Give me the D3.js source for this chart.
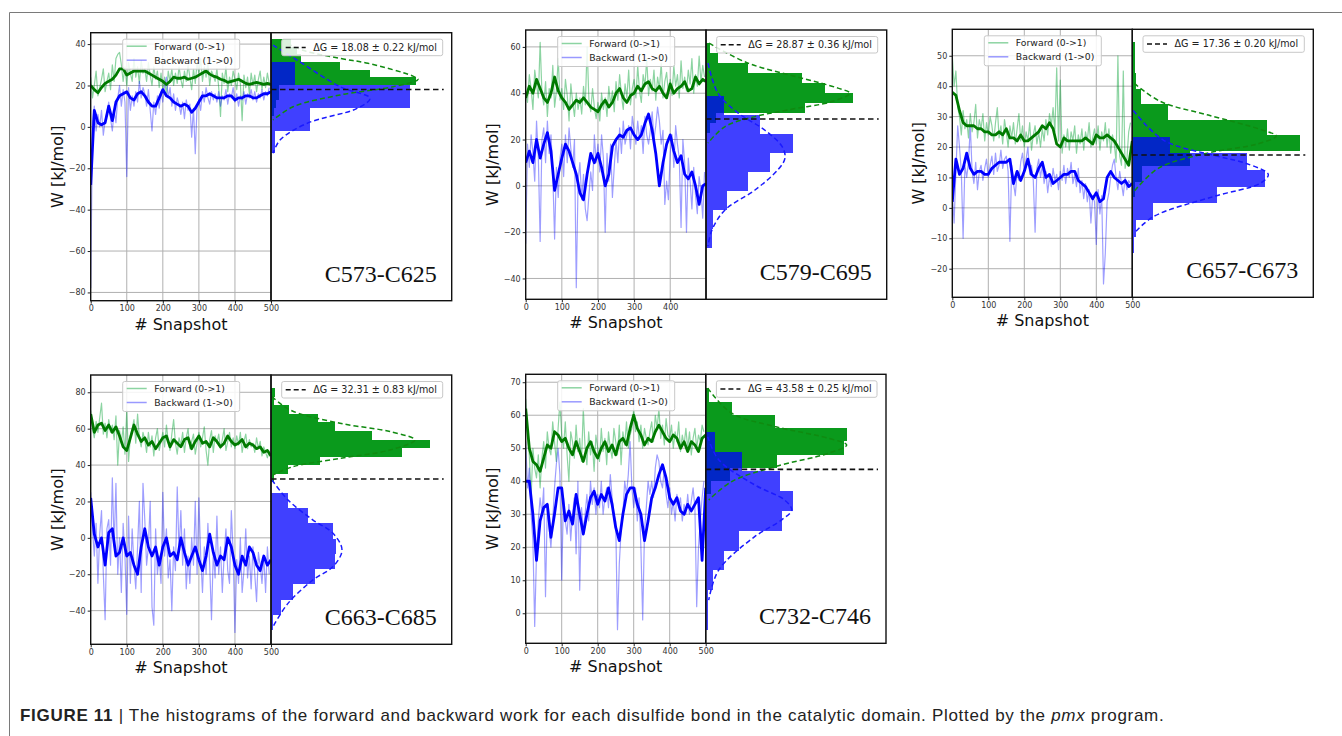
<!DOCTYPE html>
<html>
<head>
<meta charset="utf-8">
<script src="https://cdn.jsdelivr.net/npm/d3@7"></script>
<style>
  body { margin: 0; background: #fff; }
  svg { display: block; }
</style>
</head>
<body>
<div id="chart"></div>
<script>
// ---- data ----
// raw work values every 5 snapshots, smoothed curve every 10 snapshots
const RAW_STEP = 5;
const SMOOTH_STEP = 10;

const bondNames = ["C573-C625", "C579-C695", "C657-C673", "C663-C685", "C732-C746"];
const dGValues = [18.08, 28.87, 17.36, 32.31, 43.58];
const dGErrors = [0.22, 0.36, 0.20, 0.83, 0.25];

// C573-C625
const p1FwdRaw = [24,14,20,27,15,19,23,28,17,22, 26,18,30,22,33,35,36,30,22,29, 20,31,26,22,33,24,29,21,32,26,
  28,22,31,25,20,29,23,27,19,26, 18,24,15,27,22,28,20,26,21,29, 23,19,27,22,30,24,18,28,21,31,
  26,33,22,29,24,31,20,27,25,22, 28,19,5,26,21,29,17,24,20,27, 23,18,26,21,3,25,19,24,16,26, 20,25,17,23,27,18,24,19,26,21];
const p1FwdSmooth = [20,18,16.5,19,21,22,23,25,28,28,25,26,27,27,27,27,26,25,24,23,22,20.5,22,24,23.5,23.5,24,23,23.5,24,
  25,26,27,25.5,24.5,24,23,22.5,21.5,22,22.5,23,22,21,20.5,21,21.5,21,20.5,21,20.5];
const p1BwdRaw = [-78,2,10,-2,6,0,8,-4,3,7, 12,4,-2,8,2,14,20,10,18,12, -24,19,8,15,10,17,12,22,14,19,
  16,10,18,8,-2,12,6,15,9,17, 12,20,24,14,19,10,16,8,14,11, 6,12,4,13,8,11,-5,9,-13,10,
  13,8,17,12,19,14,11,17,13,16, 12,17,10,15,13,18,11,16,14,19, 12,16,10,15,13,17,11,16,14,18, 13,17,12,16,14,18,13,17,15,19];
const p1BwdSmooth = [-28,8,2,1,2,10,3,12,15,16,17,14,13,16,17,15,12,10,10,14,18,15,14,12,11,10,11,10,7,9,
  12,15,15,16,15,14,14,14,15,15,13,14,14,15,15,14,14,15,16,16,17];
const p1FwdEdges = [5.4,9.1,12.8,16.5,20.2,23.9,27.6,31.3,35.0,38.7,42.4];
const p1FwdCounts = [3,5,8,8,145,99,69,30,26,20];
const p1BwdEdges = [-12.8,-1.8,9.2,20.2,31.2];
const p1BwdCounts = [4,39,139,24];
const p1FwdFit = [[42,9],[37,32],[33.1,69],[30.7,97],[24.5,142],[22.9,147],[19.4,122],[15.4,69],[9.7,22],[3.3,2]];
const p1BwdFit = [[39.5,2],[32.3,26],[19.4,69],[13.8,99],[8.9,86],[1.7,36],[-6.4,9],[-12.8,2]];

// C579-C695
const p2FwdRaw = [40,36,48,42,33,50,44,38,62,40, 35,45,30,42,38,52,34,41,55,37, 42,33,46,39,28,44,36,30,40,33,
  38,31,43,35,60,37,32,42,34,29, 36,28,40,33,38,30,43,35,41,32, 45,37,48,39,33,44,38,50,35,42,
  46,38,52,41,36,48,43,55,39,46, 41,50,37,47,42,53,38,45,49,40, 46,39,52,43,48,38,54,42,47,41, 50,44,55,40,48,43,56,45,52,47];
const p2FwdSmooth = [38,43,40,46,42,38,36,40,47,41,38,36,33,35,37,36,38,36,34,33,32,35,37,34,36,40,42,38,36,39,
  40,43,41,44,45,42,41,43,40,38,44,40,42,43,45,41,42,47,44,46,45];
const p2BwdRaw = [-25,18,8,22,14,2,28,12,-24,20, 25,10,28,14,22,5,-23,8,-5,12, 18,4,22,10,25,16,8,20,-44,2,
  10,-6,5,-10,-15,-4,6,-2,22,10, 18,6,22,12,-20,14,2,18,-5,8, 20,10,25,14,28,18,22,26,16,30,
  24,18,28,20,26,14,30,22,18,24, 32,20,26,34,28,18,24,-8,2,-6, 14,22,8,26,18,12,-18,20,10,-20, 12,2,-10,8,-4,-12,4,-2,-14,6];
const p2BwdSmooth = [10,15,10,20,12,18,23,15,-2,5,12,18,15,10,5,-3,-6,5,14,10,14,8,0,5,17,20,22,21,24,25,
  22,20,22,27,31,24,14,0,10,18,22,15,10,13,5,3,6,0,-8,0,1];
const p2FwdEdges = [22.8,27.1,31.4,35.7,40.0,44.3,48.7,53.0,57.3,61.6];
const p2FwdCounts = [4,10,99,147,119,96,42,12,4];
const p2BwdEdges = [-26.8,-18.6,-10.4,-2.2,6.0,14.2,22.4,30.6,38.8];
const p2BwdCounts = [6,7,21,42,64,87,54,18];
const p2FwdFit = [[61.6,3],[53,42],[46.5,96],[42.2,132],[40,144],[36.4,126],[32.8,82],[29.9,49],[25.6,19],[18.5,2]];
const p2BwdFit = [[53,2],[40,12],[31.5,32],[24,59],[17,76],[12,79],[7,72],[-1.8,49],[-10.4,19],[-19,6],[-26,2]];

// C657-C673
const p3FwdRaw = [50,40,45,33,30,24,32,26,29,23, 31,25,28,34,23,29,26,31,22,28, 24,30,27,22,28,33,23,27,21,29,
  25,20,27,23,28,21,26,31,22,27, 20,25,22,28,19,24,27,21,25,20, 26,22,29,24,31,27,33,25,46,22,
  42,18,24,20,26,19,25,22,27,18, 24,21,26,19,25,22,28,20,23,26, 21,27,19,25,22,28,20,26,18,24, 21,15,50,17,14,45,13,16,25,28];
const p3FwdSmooth = [38,37,32,28,27,27,27,26,26,25,25,24,24,25,24,26,23,23,22,24,22,22,23,24,25,27,26,28,26,21,
  20,23,22,22,22,22,22,23,22,21,24,23,23,24,23,22,20,18,16,14,22];
const p3BwdRaw = [5,-5,12,27,20,12,-10,14,10,15, 27,12,8,15,6,12,14,9,13,16, 10,14,17,11,18,12,14,19,13,16,
  17,12,-11,14,8,4,12,9,15,18, 12,16,20,11,14,9,-8,13,16,10, 14,8,12,5,10,7,13,9,11,6,
  12,9,14,8,13,10,15,8,11,7, 13,5,9,3,8,2,6,-5,4,2, -12,6,-2,4,-25,-15,2,5,10,14, 16,10,6,12,8,4,10,6,9,8];
const p3BwdSmooth = [2,16,11,13,18,13,11,12,12,11,11,13,14,15,15,15,16,8,12,9,12,16,11,10,13,15,10,11,8,9,
  10,11,11,12,12,9,8,7,5,3,5,2,3,10,12,10,9,8,9,7,8];
const p3FwdEdges = [3.5,8.6,13.7,18.8,23.9,29.0,34.1,39.2,44.3,49.4,54.5];
const p3FwdCounts = [3,10,58,168,135,36,9,4,3,3];
const p3BwdEdges = [-15,-9.5,-4.0,1.5,6.9,12.4,17.9,23.4];
const p3BwdCounts = [2,4,21,85,133,115,38];
const p3FwdFit = [[40.9,2],[35,28],[30.5,76],[25.8,128],[23.6,144],[21,125],[18,75],[13,26],[5.5,2]];
const p3BwdFit = [[32,1],[22.3,31],[17,85],[14.6,114],[11,136],[8.1,128],[3.7,81],[-2.9,21],[-8.3,2]];

// C663-C685
const p4FwdRaw = [70,60,55,64,58,66,74,57,63,55, 65,58,62,54,67,40,59,52,61,46, 70,42,56,60,65,52,68,55,50,58,
  54,47,58,50,56,45,55,60,48,53, 58,50,62,53,48,57,65,52,46,55, 51,58,47,55,60,49,53,57,46,52,
  58,50,55,61,48,40,54,59,47,56, 52,57,49,54,60,48,53,58,50,55, 49,56,51,58,47,53,57,49,54,50, 52,47,55,49,53,45,50,47,44,48];
const p4FwdSmooth = [68,58,62,63,59,62,58,61,56,50,48,55,62,57,53,55,51,53,49,52,55,56,50,54,52,50,54,55,49,53,
  56,52,53,50,55,53,50,52,56,53,51,52,54,50,52,51,49,50,47,48,45];
const p4BwdRaw = [25,5,-10,8,-25,2,15,-20,-45,5, 10,-15,33,-5,30,-20,0,-30,8,-10, -42,12,-25,5,-15,-28,-5,20,-30,30,
  10,-15,-5,20,-38,-48,5,-20,-10,-25, 25,-10,5,-22,-12,-40,-5,-18,28,-8, 15,-15,5,-28,-10,-25,0,-15,20,-20,
  22,-10,-30,-5,-20,8,-15,-45,-8,-22, 12,-20,-5,-30,-10,5,-18,-25,15,-8, -52,-12,-25,0,-30,-18,5,-22,-10,-28, -5,-20,-35,-8,-15,-25,-10,-30,-5,-20];
const p4BwdSmooth = [22,2,-5,0,-15,3,5,-10,-8,0,-10,-8,-15,-20,-5,5,-5,-10,-5,-15,-5,0,-10,-8,-12,0,-8,-15,-10,-5,
  -12,-18,-10,2,-8,-15,-10,-12,0,-5,-15,-20,-10,-15,-5,-8,-15,-18,-10,-15,-12];
const p4FwdEdges = [30.5,35.2,39.9,44.6,49.3,54.0,58.7,63.4,68.1,72.8,77.5,82.2];
const p4FwdCounts = [3,17,49,131,159,101,64,47,18,3,4];
const p4BwdEdges = [-50.8,-42.4,-34,-25.6,-17.2,-8.8,-0.4,8.0,16.4,24.8];
const p4BwdCounts = [2,10,22,44,64,65,62,37,17];
const p4FwdFit = [[77.6,1],[70.3,19],[63,69],[58.4,119],[53.8,144],[48.3,119],[43.7,69],[39.1,22],[34.6,2]];
const p4BwdFit = [[31.8,1],[20.8,17],[9.8,42],[2.5,62],[-6.7,71],[-15.8,62],[-23.1,42],[-36,17],[-48.8,2]];

// C732-C746
const p5FwdRaw = [65,55,48,35,50,44,41,48,38,47, 52,44,55,50,48,58,52,46,56,64, 54,50,58,48,40,55,52,47,57,49,
  53,46,62,50,45,55,48,52,43,54, 50,46,56,49,53,45,55,50,47,56, 52,48,57,45,55,51,58,50,54,56,
  62,55,58,52,57,50,56,53,51,55, 58,52,60,56,62,53,57,51,59,54, 53,57,50,55,52,58,49,54,51,56, 50,55,48,53,56,50,54,52,57,55];
const p5FwdSmooth = [62,50,46,45,43,47,51,50,55,54,52,53,50,48,52,49,46,50,52,49,47,50,52,49,51,48,52,53,51,56,
  60,56,54,51,53,52,55,57,55,53,52,54,53,50,52,49,52,51,49,53,54];
const p5BwdRaw = [52,38,44,30,22,-4,18,28,35,30, 38,5,32,26,20,28,38,45,50,42, 10,35,28,24,33,22,30,35,18,40,
  7,32,25,30,36,28,40,33,38,30, 36,32,40,30,35,38,32,42,35,30, 28,-5,15,25,30,40,36,42,52,38,
  32,38,28,35,20,-2,25,32,40,36, 40,35,44,48,46,40,38,44,36,32, 38,30,34,28,36,32,35,28,33,30, 36,30,34,38,32,2,20,28,35,40];
const p5BwdSmooth = [40,40,30,16,28,32,33,23,30,38,38,28,31,27,36,30,24,30,35,37,33,36,34,38,33,26,22,30,36,38,
  38,33,30,22,28,35,38,42,45,41,35,33,35,31,30,33,31,33,35,16,38];
const p5FwdEdges = [36.1,40.1,44.1,48.1,52.1,56.1,60.1,64.1,68.1];
const p5FwdCounts = [5,24,71,138,141,69,26,3];
const p5BwdEdges = [-5,1,7,13,19,25,31,37,43,49,55];
const p5BwdCounts = [2,2,7,18,33,76,87,74,36,9];
const p5FwdFit = [[68.2,2],[60.6,26],[56.6,69],[53,123],[51,141],[48.5,123],[44.4,69],[39.9,26],[34.3,3]];
const p5BwdFit = [[53.5,2],[46.5,13],[38.9,49],[34.3,79],[31.3,86],[28.3,76],[23.2,49],[13.1,13],[4,3]];

const yTickSets = [
  [-80,-60,-40,-20,0,20,40],
  [-40,-20,0,20,40,60],
  [-20,-10,0,10,20,30,40,50],
  [-40,-20,0,20,40,60,80],
  [0,10,20,30,40,50,60,70]
];
const xTickSets = [
  [0,100,200,300,400,500],
  [0,100,200,300,400],
  [0,100,200,300,400,500],
  [0,100,200,300,400,500],
  [0,100,200,300,400,500]
];

// ---- layout (pixel boxes of each subplot pair) ----
const layout = [
  {left: 90.7, top: 32.7, bottom: 300.7, mid: 271, right: 451.7, yDomain: [-84, 45.5], xMax: 500},
  {left: 525.7, top: 30, bottom: 299.3, mid: 706, right: 886.7, yDomain: [-49, 67.3], xMax: 499},
  {left: 952.3, top: 29.3, bottom: 297.3, mid: 1132.3, right: 1313.3, yDomain: [-29.4, 58.7], xMax: 500},
  {left: 90.7, top: 375, bottom: 644.3, mid: 271, right: 451.7, yDomain: [-58.5, 89.5], xMax: 500},
  {left: 525.7, top: 374.3, bottom: 643.3, mid: 705.7, right: 886, yDomain: [-9.1, 72.4], xMax: 500}
];

const panels = [
  {fwdRaw: p1FwdRaw, fwdSmooth: p1FwdSmooth, bwdRaw: p1BwdRaw, bwdSmooth: p1BwdSmooth,
   fwdEdges: p1FwdEdges, fwdCounts: p1FwdCounts, bwdEdges: p1BwdEdges, bwdCounts: p1BwdCounts, fwdFit: p1FwdFit, bwdFit: p1BwdFit},
  {fwdRaw: p2FwdRaw, fwdSmooth: p2FwdSmooth, bwdRaw: p2BwdRaw, bwdSmooth: p2BwdSmooth,
   fwdEdges: p2FwdEdges, fwdCounts: p2FwdCounts, bwdEdges: p2BwdEdges, bwdCounts: p2BwdCounts, fwdFit: p2FwdFit, bwdFit: p2BwdFit},
  {fwdRaw: p3FwdRaw, fwdSmooth: p3FwdSmooth, bwdRaw: p3BwdRaw, bwdSmooth: p3BwdSmooth,
   fwdEdges: p3FwdEdges, fwdCounts: p3FwdCounts, bwdEdges: p3BwdEdges, bwdCounts: p3BwdCounts, fwdFit: p3FwdFit, bwdFit: p3BwdFit},
  {fwdRaw: p4FwdRaw, fwdSmooth: p4FwdSmooth, bwdRaw: p4BwdRaw, bwdSmooth: p4BwdSmooth,
   fwdEdges: p4FwdEdges, fwdCounts: p4FwdCounts, bwdEdges: p4BwdEdges, bwdCounts: p4BwdCounts, fwdFit: p4FwdFit, bwdFit: p4BwdFit},
  {fwdRaw: p5FwdRaw, fwdSmooth: p5FwdSmooth, bwdRaw: p5BwdRaw, bwdSmooth: p5BwdSmooth,
   fwdEdges: p5FwdEdges, fwdCounts: p5FwdCounts, bwdEdges: p5BwdEdges, bwdCounts: p5BwdCounts, fwdFit: p5FwdFit, bwdFit: p5BwdFit}
];

const width = 1342;
const height = 736;
const sans = "'DejaVu Sans', sans-serif";

const svg = d3.select("#chart")
  .append("svg")
  .attr("width", width)
  .attr("height", height)
  .attr("viewBox", [0, 0, width, height]);

// page frame
svg.append("path")
  .attr("d", `M9.5,${height}V12.5H${width}`)
  .attr("fill", "none")
  .attr("stroke", "#7a7a7a")
  .attr("stroke-width", 1);

panels.forEach((p, k) => drawPanel(p, layout[k], k));

function drawPanel(p, L, k) {
  const g = svg.append("g");

  const x = d3.scaleLinear().domain([0, L.xMax]).range([L.left, L.mid]);
  const y = d3.scaleLinear().domain(L.yDomain).range([L.bottom, L.top]);
  // histogram counts in the right-hand axes
  const hx = d3.scaleLinear().domain([0, L.right - L.mid]).range([L.mid, L.right]);

  const clipL = "clipL" + k, clipR = "clipR" + k;
  g.append("clipPath").attr("id", clipL).append("rect")
    .attr("x", L.left).attr("y", L.top).attr("width", L.mid - L.left).attr("height", L.bottom - L.top);
  g.append("clipPath").attr("id", clipR).append("rect")
    .attr("x", L.mid).attr("y", L.top).attr("width", L.right - L.mid).attr("height", L.bottom - L.top);

  // grid
  const grid = g.append("g").attr("stroke", "#b0b0b0").attr("stroke-width", 1);
  grid.selectAll(".gy")
    .data(yTickSets[k])
    .join("line")
    .attr("x1", L.left).attr("x2", L.mid)
    .attr("y1", d => y(d)).attr("y2", d => y(d));
  grid.selectAll(".gx")
    .data(xTickSets[k].filter(d => d > 0 && d < L.xMax))
    .join("line")
    .attr("x1", d => x(d)).attr("x2", d => x(d))
    .attr("y1", L.top).attr("y2", L.bottom);

  // work traces
  const lineOf = step => d3.line()
    .x((d, i) => x(Math.min(i * step, L.xMax)))
    .y(d => y(d));

  const traces = g.append("g").attr("clip-path", `url(#${clipL})`).attr("fill", "none")
    .attr("stroke-linejoin", "round");
  traces.append("path").attr("d", lineOf(RAW_STEP)(p.fwdRaw))
    .attr("stroke", "#00a030").attr("stroke-opacity", 0.45).attr("stroke-width", 1.2);
  traces.append("path").attr("d", lineOf(RAW_STEP)(p.bwdRaw))
    .attr("stroke", "#0000ff").attr("stroke-opacity", 0.38).attr("stroke-width", 1.2);
  traces.append("path").attr("d", lineOf(SMOOTH_STEP)(p.fwdSmooth))
    .attr("stroke", "#007a00").attr("stroke-width", 2.8);
  traces.append("path").attr("d", lineOf(SMOOTH_STEP)(p.bwdSmooth))
    .attr("stroke", "#0000ff").attr("stroke-width", 2.8);

  // histograms
  const hist = g.append("g").attr("clip-path", `url(#${clipR})`);
  const bins = (edges, counts) => counts.map((c, i) => ({lo: edges[i], hi: edges[i + 1], c}));
  const bars = hist.append("g").attr("shape-rendering", "crispEdges");
  bars.selectAll(".hf")
    .data(bins(p.fwdEdges, p.fwdCounts))
    .join("rect")
    .attr("x", L.mid)
    .attr("y", d => y(d.hi))
    .attr("width", d => hx(d.c) - L.mid)
    .attr("height", d => y(d.lo) - y(d.hi))
    .attr("fill", "#0a9a1c");
  bars.selectAll(".hb")
    .data(bins(p.bwdEdges, p.bwdCounts))
    .join("rect")
    .attr("x", L.mid)
    .attr("y", d => y(d.hi))
    .attr("width", d => hx(d.c) - L.mid)
    .attr("height", d => y(d.lo) - y(d.hi))
    .attr("fill", "#0000ff")
    .attr("fill-opacity", 0.75);

  const fit = d3.line().x(d => hx(d[1])).y(d => y(d[0])).curve(d3.curveCatmullRom);
  hist.append("path").attr("d", fit(p.fwdFit))
    .attr("fill", "none").attr("stroke", "#108a10").attr("stroke-width", 1.5).attr("stroke-dasharray", "5,3");
  hist.append("path").attr("d", fit(p.bwdFit))
    .attr("fill", "none").attr("stroke", "#1a1aff").attr("stroke-width", 1.5).attr("stroke-dasharray", "5,3");

  // dG line
  g.append("line")
    .attr("x1", L.mid).attr("x2", L.right - 8)
    .attr("y1", y(dGValues[k])).attr("y2", y(dGValues[k]))
    .attr("stroke", "#111").attr("stroke-width", 1.6).attr("stroke-dasharray", "5.5,3.5");

  // axes
  const yAxis = g.append("g")
    .attr("transform", `translate(${L.left},0)`)
    .call(d3.axisLeft(y).tickValues(yTickSets[k]).tickSize(3).tickPadding(2));
  const xAxis = g.append("g")
    .attr("transform", `translate(0,${L.bottom})`)
    .call(d3.axisBottom(x).tickValues(xTickSets[k]).tickSize(3).tickPadding(2));
  [yAxis, xAxis].forEach(a => {
    a.select(".domain").remove();
    a.selectAll("text").style("font-family", sans).style("font-size", "8px").attr("fill", "#333");
    a.selectAll("line").attr("stroke", "#222");
  });

  // frames
  g.append("rect")
    .attr("x", L.left).attr("y", L.top).attr("width", L.mid - L.left).attr("height", L.bottom - L.top)
    .attr("fill", "none").attr("stroke", "#111").attr("stroke-width", 1.4);
  g.append("rect")
    .attr("x", L.mid).attr("y", L.top).attr("width", L.right - L.mid).attr("height", L.bottom - L.top)
    .attr("fill", "none").attr("stroke", "#111").attr("stroke-width", 1.4);

  // axis labels
  g.append("text")
    .attr("transform", `translate(${L.left - 28},${(L.top + L.bottom) / 2}) rotate(-90)`)
    .attr("text-anchor", "middle")
    .style("font-family", sans).style("font-size", "16px").attr("fill", "#111")
    .text("W [kJ/mol]");
  g.append("text")
    .attr("x", (L.left + L.mid) / 2).attr("y", L.bottom + 29)
    .attr("text-anchor", "middle")
    .style("font-family", sans).style("font-size", "16px").attr("fill", "#111")
    .text("# Snapshot");

  // work legend
  const lg = g.append("g").attr("transform", `translate(${L.left + 32},${L.top + 6.5})`);
  lg.append("rect").attr("width", 117).attr("height", 30).attr("rx", 2)
    .attr("fill", "#fff").attr("fill-opacity", 0.85).attr("stroke", "#c8c8c8");
  [["Forward (0->1)", "#00a030", 0.45], ["Backward (1->0)", "#0000ff", 0.4]].forEach(([t, c, o], i) => {
    lg.append("line").attr("x1", 4).attr("x2", 24).attr("y1", 7 + i * 14).attr("y2", 7 + i * 14)
      .attr("stroke", c).attr("stroke-opacity", o).attr("stroke-width", 1.5);
    lg.append("text").attr("x", 31.5).attr("y", 10.5 + i * 14)
      .style("font-family", sans).style("font-size", "9.3px").attr("fill", "#222").text(t);
  });

  // dG legend
  const dl = g.append("g").attr("transform", `translate(${L.mid + 10.7},${L.top + 6.5})`);
  dl.append("rect").attr("width", L.right - L.mid - 19.7).attr("height", 16.5).attr("rx", 2)
    .attr("fill", "#fff").attr("fill-opacity", 0.85).attr("stroke", "#c8c8c8");
  dl.append("line").attr("x1", 4).attr("x2", 24).attr("y1", 8.3).attr("y2", 8.3)
    .attr("stroke", "#111").attr("stroke-width", 1.5).attr("stroke-dasharray", "5,3");
  dl.append("text").attr("x", 31.5).attr("y", 11.6)
    .style("font-family", sans).style("font-size", "9.6px").attr("fill", "#222")
    .text(`ΔG = ${dGValues[k].toFixed(2)} ± ${dGErrors[k].toFixed(2)} kJ/mol`);

  // bond label
  g.append("text")
    .attr("x", L.right - 15).attr("y", L.bottom - 19)
    .attr("text-anchor", "end")
    .style("font-family", "'Liberation Serif', 'Times New Roman', serif").style("font-size", "24px")
    .attr("fill", "#111")
    .text(bondNames[k]);
}

// caption
const cap = svg.append("text")
  .attr("x", 20).attr("y", 721)
  .style("font-family", "'Liberation Sans', Arial, sans-serif").style("font-size", "17px")
  .style("letter-spacing", "0.7px")
  .attr("fill", "#222");
cap.append("tspan").style("font-weight", "bold").text("FIGURE 11 ");
cap.append("tspan").text("| The histograms of the forward and backward work for each disulfide bond in the catalytic domain. Plotted by the ");
cap.append("tspan").style("font-style", "italic").text("pmx");
cap.append("tspan").text(" program.");
</script>
</body>
</html>
